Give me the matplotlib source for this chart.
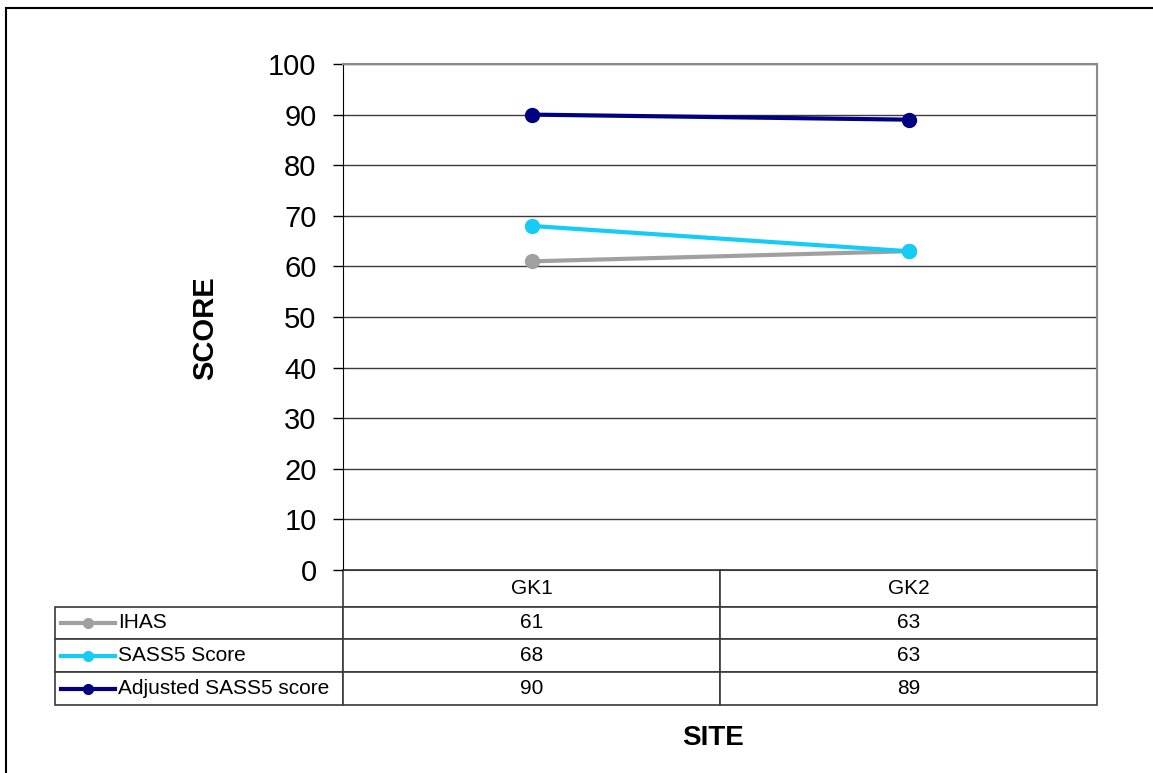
import matplotlib.pyplot as plt
from matplotlib.lines import Line2D
from matplotlib.patches import Rectangle

plt.rcParams['font.family'] = ['Liberation Sans', 'DejaVu Sans']

# data
sites = ['GK1', 'GK2']
ihas = [61, 63]
sass5 = [68, 63]
adjSass5 = [90, 89]

seriesNames = ['IHAS', 'SASS5 Score', 'Adjusted SASS5 score']
seriesValues = [ihas, sass5, adjSass5]
seriesColors = ['#A0A0A0', '#14CCF5', '#000080']

fig = plt.figure(figsize=(11.53, 7.73), dpi=100)
ax = fig.add_axes([343/1153, 1 - 570/773, 754/1153, 506/773])

xs = list(range(len(sites)))
for vals, col in zip(seriesValues, seriesColors):
    ax.plot(xs, vals, color=col, lw=3, marker='o', markersize=10, zorder=3)

ax.set_xlim(-0.5, len(sites) - 0.5)
ax.set_ylim(0, 100)
ax.set_yticks(range(0, 101, 10))
ax.set_xticks([])
ax.tick_params(axis='y', labelsize=21, length=7, width=1, pad=12, color='black')
ax.yaxis.grid(True, color='#3a3a3a', lw=1)
ax.set_axisbelow(True)
ax.spines['left'].set_color('black')
ax.spines['bottom'].set_color('#3a3a3a')
ax.spines['top'].set_color('#8a8a8a')
ax.spines['right'].set_color('#8a8a8a')
ax.spines['top'].set_linewidth(1.5)
ax.spines['right'].set_linewidth(1.5)

# data table under the chart
axW = 754.0
axH = 506.0
cellText = [[''] + sites]
for vals in seriesValues:
    cellText.append([''] + [str(v) for v in vals])

tbl = ax.table(cellText=cellText, cellLoc='center',
               bbox=[(55 - 343)/axW, -(705 - 570)/axH, (1097 - 55)/axW, (705 - 570)/axH])
tbl.auto_set_font_size(False)
tbl.set_fontsize(15)
colW = [(343 - 55)/axW, 0.5, 0.5]
rowH = [37/axH, 32/axH, 33/axH, 33/axH]
for (r, c), cell in tbl.get_celld().items():
    cell.set_width(colW[c])
    cell.set_height(rowH[r])
    cell.set_edgecolor('#3a3a3a')
    cell.set_linewidth(1.2)
    if r == 0 and c == 0:
        cell.visible_edges = ''

# legend keys inside the table
rowCenters = [623, 655.5, 688.5]
for name, col, yc in zip(seriesNames, seriesColors, rowCenters):
    y = -(yc - 570)/axH
    ax.add_line(Line2D([(61 - 343)/axW, (115 - 343)/axW], [y, y], transform=ax.transAxes,
                       color=col, lw=3, clip_on=False))
    ax.add_line(Line2D([(88 - 343)/axW], [y], transform=ax.transAxes, color=col,
                       marker='o', markersize=7, clip_on=False))
    ax.text((118 - 343)/axW, y, name, transform=ax.transAxes, fontsize=15,
            ha='left', va='center')

fig.text(205/1153, 1 - 328/773, 'SCORE', rotation=90, fontsize=21, fontweight='bold',
         ha='center', va='center')
fig.text(713/1153, 1 - 738/773, 'SITE', fontsize=20, fontweight='bold',
         ha='center', va='center')

# outer frame
fig.patches.append(Rectangle((6/1153, -0.1), 1.2, 1.1 - 8/773, transform=fig.transFigure,
                             fill=False, edgecolor='black', lw=1.5))

fig.savefig('out.png', dpi=100)
